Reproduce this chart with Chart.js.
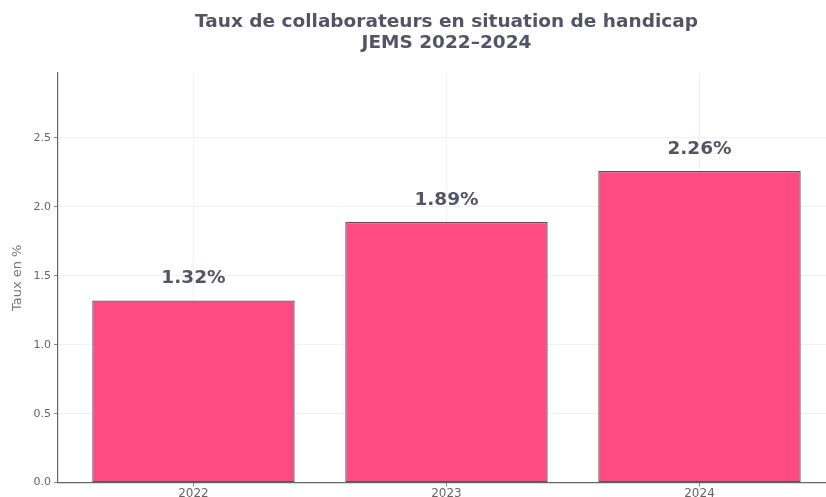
<!DOCTYPE html>
<html lang="fr">
  <head>
    <meta charset="utf-8" />
    <title>Taux de collaborateurs en situation de handicap</title>
    <style>
      * {
        margin: 0;
        padding: 0;
      }
      body {
        background: #ffffff;
        overflow: hidden;
      }
      /* a bit taller than the window: the original crops the year labels */
      .chartBox {
        width: 826px;
        height: 501px;
      }
    </style>
  </head>
  <body>
    <div class="chartBox">
      <canvas id="myChart"></canvas>
    </div>

    <script src="https://cdn.jsdelivr.net/npm/chart.js"></script>

    <script>
      // data block
      const years = ["2022", "2023", "2024"];
      const rates = [1.32, 1.89, 2.26];
      const yTicks = [0, 0.5, 1.0, 1.5, 2.0, 2.5];

      const textColor = "#545464";
      const font = "'DejaVu Sans', sans-serif";

      // bars sit on a linear x axis so the left margin matches the original
      const points = rates.map((v, i) => ({ x: i, y: v }));

      // labels above the bars + two-line title
      const annotate = {
        id: "annotate",
        afterDatasetsDraw(chart) {
          const { ctx, scales: { x, y } } = chart;
          ctx.save();
          ctx.fillStyle = textColor;
          ctx.textAlign = "center";
          ctx.textBaseline = "middle";
          ctx.font = "bold 18.5px " + font;
          rates.forEach((v, i) => {
            ctx.fillText(v.toFixed(2) + "%", x.getPixelForValue(i), y.getPixelForValue(v) - 22);
          });

          const cx = x.getPixelForValue(1);
          ctx.fillText("Taux de collaborateurs en situation de handicap", cx, 22);
          ctx.fillText("JEMS 2022\u20132024", cx, 43);
          ctx.restore();
        },
      };

      // config block
      const config = {
        type: "bar",
        data: {
          datasets: [
            {
              data: points,
              backgroundColor: "#ff4a82",
              borderColor: "#5a5060",
              borderWidth: 1.3,
              borderSkipped: false,
              barPercentage: 0.8,
              categoryPercentage: 1.0,
            },
          ],
        },
        options: {
          responsive: true,
          maintainAspectRatio: false,
          animation: false,
          layout: { padding: { top: 73, left: 10, right: 0, bottom: 0 } },
          plugins: {
            legend: { display: false },
            tooltip: { enabled: false },
          },
          scales: {
            x: {
              type: "linear",
              offset: false,
              min: -0.535,
              max: 2.5,
              afterBuildTicks: (axis) => {
                axis.ticks = years.map((_, i) => ({ value: i }));
              },
              ticks: {
                callback: (v) => years[v],
                color: "#666666",
                font: { family: font, size: 12 },
                padding: 0,
                maxRotation: 0,
              },
              grid: {
                offset: false,
                color: "#ececec",
                lineWidth: 0.8,
                tickLength: 4,
                tickColor: "#666666",
                drawOnChartArea: true,
              },
              border: { color: "#666666", width: 1.2 },
            },
            y: {
              min: 0,
              max: 2.97,
              afterBuildTicks: (axis) => {
                axis.ticks = yTicks.map((v) => ({ value: v }));
              },
              ticks: {
                callback: (v) => v.toFixed(1),
                color: "#666666",
                font: { family: font, size: 11 },
                padding: 3,
              },
              grid: {
                color: "#ececec",
                lineWidth: 0.8,
                tickLength: 4,
                tickColor: "#666666",
              },
              border: { color: "#666666", width: 1.2 },
              title: {
                display: true,
                text: "Taux en %",
                color: "#777777",
                font: { family: font, size: 13 },
                padding: { top: 0, bottom: 5 },
              },
            },
          },
        },
        plugins: [annotate],
      };

      // init render block
      const myChart = new Chart(document.getElementById("myChart"), config);
    </script>
  </body>
</html>
